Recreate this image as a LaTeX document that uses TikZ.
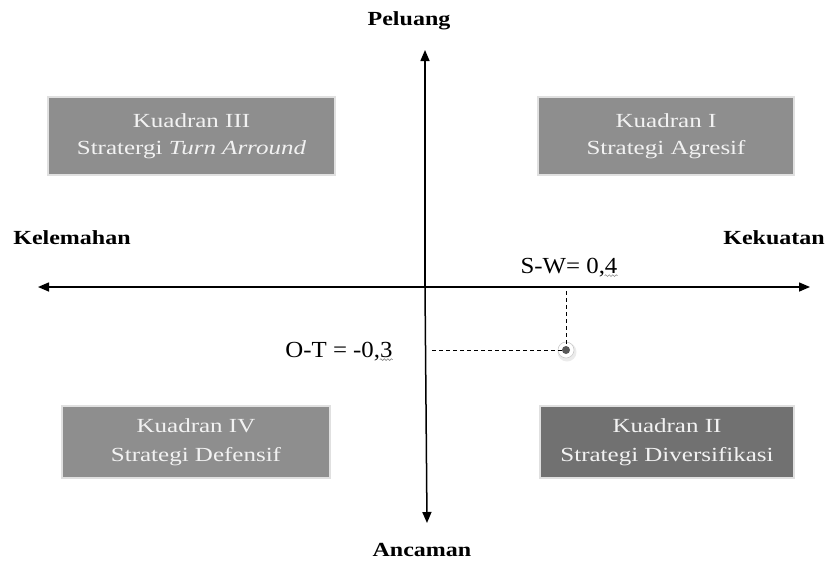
\documentclass[tikz,border=0pt]{standalone}
\usepackage{fontspec}
\setmainfont{Liberation Serif}
\newfontfamily\boxfont[FakeStretch=1.25]{Liberation Serif}
\newfontfamily\labfont[FakeStretch=1.2]{Liberation Serif}
\newfontfamily\valfont[FakeStretch=1.08]{Liberation Serif}
\usetikzlibrary{arrows.meta,decorations.pathmorphing}
\definecolor{boxgray}{HTML}{8E8E8E}
\definecolor{boxdark}{HTML}{717171}
\tikzset{
  quad/.style={draw=black!12, line width=2pt, fill=boxgray, text=white!95!black, align=center,
    font=\boxfont\fontsize{20}{27}\selectfont, inner sep=0pt},
  axis/.style={line width=1.5pt, -{Triangle[length=11pt,width=9pt]}},
  axlabel/.style={font=\labfont\fontsize{20}{24}\selectfont\bfseries, inner sep=0pt},
  vallabel/.style={font=\valfont\fontsize{23}{26}\selectfont, inner sep=0pt},
  guide/.style={line width=0.8pt, dash pattern=on 4pt off 3pt},
  wavy/.style={draw=black!45, line width=0.6pt, decorate, decoration={snake, amplitude=0.9pt, segment length=3.5pt}}
}
\begin{document}
\begin{tikzpicture}[x=1pt,y=-1pt]
\useasboundingbox (0,0) rectangle (832,565);
% quadrant boxes
\node[quad, minimum width=287pt, minimum height=78pt] (q3) at (191.5,136) {Kuadran III\\Stratergi \textit{Turn Arround}};
\node[quad, minimum width=256pt, minimum height=78pt] (q1) at (666,136) {Kuadran I\\Strategi Agresif};
\node[quad, font=\boxfont\fontsize{20}{29}\selectfont, minimum width=268pt, minimum height=72pt] (q4) at (196,442) {Kuadran IV\\Strategi Defensif};
\node[quad, font=\boxfont\fontsize{20}{29}\selectfont, fill=boxdark, minimum width=254pt, minimum height=72pt] (q2) at (667,442) {Kuadran II\\Strategi Diversifikasi};
% axes
\coordinate (o) at (425,287);
\coordinate (top) at (425,50);
\coordinate (bot) at (427,523);
\coordinate (left) at (38,287);
\coordinate (right) at (810,287);
\draw[axis] (o) -- (top);
\draw[axis] (o) -- (bot);
\draw[axis] (o) -- (left);
\draw[axis] (o) -- (right);
% axis labels
\node[axlabel] (peluang) at (409,21) {Peluang};
\node[axlabel] (ancaman) at (422,550) {Ancaman};
\node[axlabel] (kelemahan) at (72,238) {Kelemahan};
\node[axlabel] (kekuatan) at (774,238) {Kekuatan};
% values
\node[vallabel] (sw) at (569,268) {S-W= 0,4};
\node[vallabel] (ot) at (339,352) {O-T = -0,3};
\draw[wavy] ([xshift=-13pt,yshift=2pt]sw.south east) -- ([xshift=0pt,yshift=2pt]sw.south east);
\draw[wavy] ([xshift=-13pt,yshift=2pt]ot.south east) -- ([xshift=0pt,yshift=2pt]ot.south east);
% point
\coordinate (xa) at (566,291);
\coordinate (ya) at (432,350);
\fill[black!8] (567,352) circle (9.5pt);
\fill[white] (566,350) circle (8pt);
\draw[black!20, line width=0.6pt] (566,350) circle (8pt);
\node[circle, fill=black!65, minimum size=8pt, inner sep=0pt] (pt) at (566,350) {};
\draw[guide] (xa) -- (pt.north);
\draw[guide] (ya) -- (pt.west);
\end{tikzpicture}
\end{document}
